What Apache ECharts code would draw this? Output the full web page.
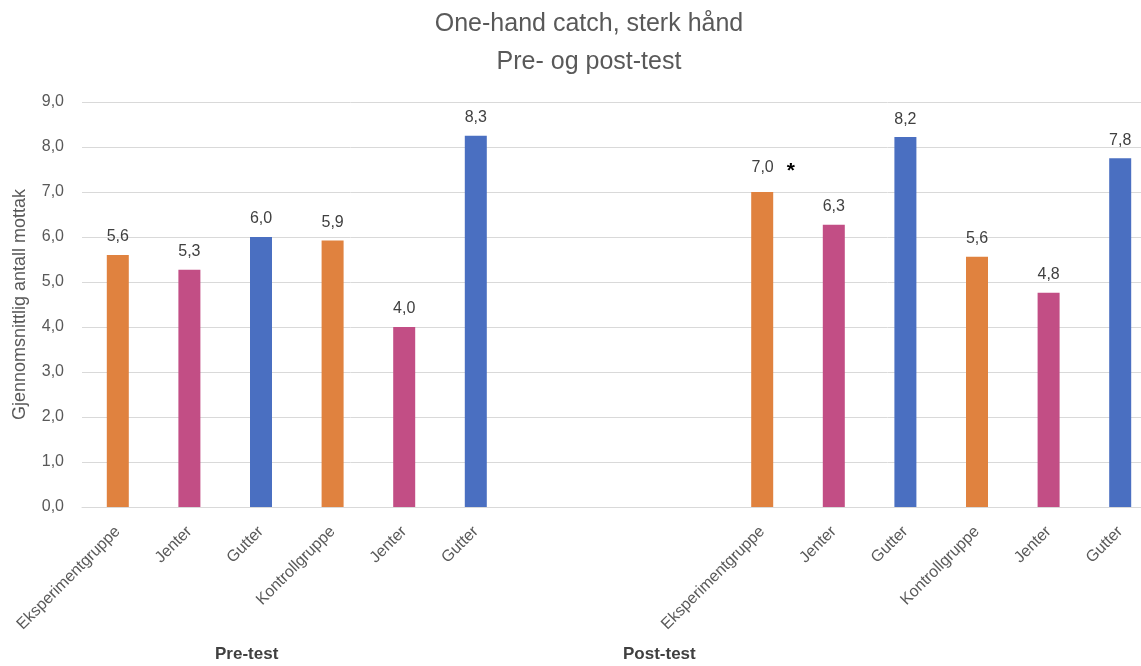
<!DOCTYPE html>
<html>
<head>
<meta charset="utf-8">
<script src="https://cdn.jsdelivr.net/npm/echarts@6/dist/echarts.min.js"></script>
<style>
  html, body { margin: 0; padding: 0; background: #fff; overflow: hidden; }
  #chart-panel { width: 1156px; height: 666px; }
</style>
</head>
<body>
<div id="chart-panel"></div>
<script>
// categories per test (pre and post have the same 6 groups)
var groups = ['Eksperimentgruppe', 'Jenter', 'Gutter', 'Kontrollgruppe', 'Jenter', 'Gutter'];
var preValues = [5.6, 5.27, 6.0, 5.92, 4.0, 8.25];
var postValues = [7.0, 6.27, 8.22, 5.56, 4.76, 7.75];
var gapCount = 3;
var yTicks = [0, 9, 1]; // min, max, step

var colorFor = {
    'Eksperimentgruppe': '#E0823F',
    'Kontrollgruppe': '#E0823F',
    'Jenter': '#C24E85',
    'Gutter': '#4A6FC1'
};

var fmt = function (v) { return v.toFixed(1).replace('.', ','); };

var cats = [];
var barData = [];
groups.forEach(function (g, i) {
    cats.push(g);
    barData.push({ value: preValues[i], itemStyle: { color: colorFor[g] } });
});
for (var k = 0; k < gapCount; k++) {
    cats.push(' '.repeat(k + 1));
    barData.push('-');
}
groups.forEach(function (g, i) {
    cats.push(g);
    var item = { value: postValues[i], itemStyle: { color: colorFor[g] } };
    if (i === 0) {
        // significant difference marker
        item.label = {
            formatter: '{v|' + fmt(postValues[i]) + '}{s|*}',
            offset: [11, 0],
            rich: {
                v: { fontSize: 16, color: '#404040', fontFamily: 'Liberation Sans' },
                s: { fontSize: 21, fontWeight: 'bold', color: '#000', padding: [7, 0, 0, 13] }
            }
        };
    }
    barData.push(item);
});

var myChart = echarts.init(document.getElementById('chart-panel'));
var option = {
    animation: false,
    textStyle: { fontFamily: 'Liberation Sans' },
    title: {
        text: 'One-hand catch, sterk hånd\nPre- og post-test',
        left: 584,
        textAlign: 'center',
        top: 0,
        textStyle: { fontSize: 25, fontWeight: 'normal', color: '#595959', lineHeight: 38 }
    },
    grid: { left: 82, right: 0, top: 102, bottom: 159 },
    xAxis: {
        type: 'category',
        data: cats,
        axisLine: { lineStyle: { color: '#d9d9d9' } },
        axisTick: { show: false },
        axisLabel: { rotate: 45, interval: 0, fontSize: 16, color: '#595959', margin: 22 }
    },
    yAxis: {
        type: 'value',
        min: yTicks[0],
        max: yTicks[1],
        interval: yTicks[2],
        name: 'Gjennomsnittlig antall mottak',
        nameLocation: 'middle',
        nameGap: 53,
        nameTextStyle: { fontSize: 18, color: '#595959' },
        axisLabel: { formatter: fmt, fontSize: 16, color: '#595959', margin: 18 },
        splitLine: { lineStyle: { color: '#d9d9d9' } }
    },
    series: [{
        type: 'bar',
        data: barData,
        barWidth: 22,
        label: {
            show: true,
            position: 'top',
            distance: 10,
            fontSize: 16,
            color: '#404040',
            formatter: function (p) { return fmt(p.value); }
        }
    }],
    graphic: [
        { type: 'text', left: 215, top: 646, style: { text: 'Pre-test', fontSize: 17, fontWeight: 'bold', fill: '#404040', fontFamily: 'Liberation Sans' } },
        { type: 'text', left: 623, top: 646, style: { text: 'Post-test', fontSize: 17, fontWeight: 'bold', fill: '#404040', fontFamily: 'Liberation Sans' } }
    ]
};
myChart.setOption(option);
</script>
</body>
</html>
